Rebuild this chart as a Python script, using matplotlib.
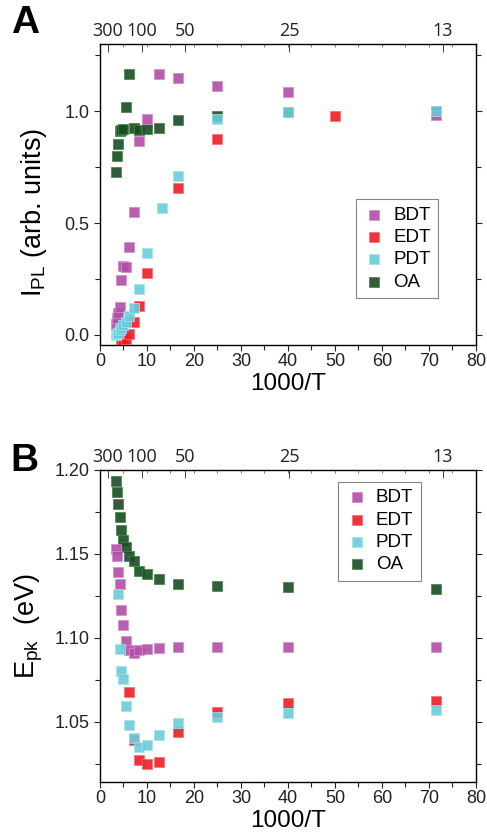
import numpy as np
import matplotlib
matplotlib.use("Agg")
import matplotlib.pyplot as plt
from matplotlib.ticker import MultipleLocator

plt.rcParams['font.family'] = ['Liberation Sans', 'DejaVu Sans']
plt.rcParams['mathtext.default'] = 'regular'

# ---- data ----
labels = ["BDT", "EDT", "PDT", "OA"]
colors = ["#B04FA6", "#EE1D25", "#6ACCDB", "#1B4B24"]
edges  = ["#D58CCB", "#F87077", "#A5E2EA", "#3F8A48"]

# top axis: temperature (K) labels and where they sit on the 1000/T axis
top_labels = ["300", "100", "50", "25", "13"]
top_pos    = [1.7, 9.0, 18.0, 40.2, 73.0]

# panel A: PL intensity
a_bdt_x = [3.33, 3.57, 3.85, 4.17, 4.55, 5.0, 5.56, 6.25, 7.14, 8.33, 10, 12.5, 16.7, 25, 40, 71.4]
a_bdt_y = [0.05, 0.075, 0.10, 0.125, 0.245, 0.31, 0.305, 0.394, 0.55, 0.868, 0.967, 1.165, 1.146, 1.113, 1.086, 0.985]
a_edt_x = [4.55, 5.0, 5.56, 6.25, 7.14, 8.33, 10, 16.7, 25, 50]
a_edt_y = [-0.04, -0.035, -0.02, 0.005, 0.057, 0.128, 0.278, 0.658, 0.875, 0.978]
a_pdt_x = [3.33, 3.57, 3.85, 4.17, 4.55, 5.0, 5.56, 6.25, 7.14, 8.33, 10, 13.3, 16.7, 25, 40, 71.4]
a_pdt_y = [0.0, 0.005, 0.01, 0.02, 0.03, 0.045, 0.06, 0.085, 0.122, 0.204, 0.365, 0.566, 0.71, 0.963, 0.998, 1.0]
a_oa_x  = [3.33, 3.57, 3.85, 4.17, 4.55, 5.0, 5.56, 6.25, 7.14, 8.33, 10, 12.5, 16.7, 25, 40, 71.4]
a_oa_y  = [0.729, 0.80, 0.853, 0.912, 0.918, 0.922, 1.02, 1.165, 0.925, 0.918, 0.922, 0.926, 0.96, 0.978, 0.995, 1.0]

# panel B: peak energy (eV)
b_bdt_x = [3.33, 3.57, 3.85, 4.17, 4.55, 5.0, 5.56, 6.25, 7.14, 8.33, 10, 12.5, 16.7, 25, 40, 71.4]
b_bdt_y = [1.153, 1.149, 1.139, 1.1318, 1.1168, 1.1074, 1.098, 1.0926, 1.0906, 1.0926, 1.093, 1.0936, 1.0942, 1.0942, 1.0942, 1.0942]
b_edt_x = [6.25, 7.14, 8.33, 10, 12.5, 16.7, 25, 40, 71.4]
b_edt_y = [1.0678, 1.039, 1.027, 1.025, 1.026, 1.044, 1.0559, 1.0609, 1.0622]
b_pdt_x = [3.85, 4.17, 4.55, 5.0, 5.56, 6.25, 7.14, 8.33, 10, 12.5, 16.7, 25, 40, 71.4]
b_pdt_y = [1.1263, 1.093, 1.0803, 1.0752, 1.0595, 1.048, 1.040, 1.035, 1.036, 1.042, 1.049, 1.053, 1.0553, 1.057]
b_oa_x  = [3.33, 3.57, 3.85, 4.17, 4.55, 5.0, 5.56, 6.25, 7.14, 8.33, 10, 12.5, 16.7, 25, 40, 71.4]
b_oa_y  = [1.1936, 1.1867, 1.1798, 1.1718, 1.1643, 1.158, 1.154, 1.149, 1.146, 1.140, 1.1378, 1.1348, 1.1322, 1.1306, 1.1302, 1.1293]

zorders = [3, 4, 5, 2.5]


def draw_panel(ax, xs, ys, ylim, ymajor, yminor, ylabel, leg_anchor):
    for x, y, lab, c, e, z in zip(xs, ys, labels, colors, edges, zorders):
        ax.scatter(x, y, marker='s', s=62, color=c, edgecolors=e,
                   linewidths=0.6, alpha=0.9, label=lab, zorder=z)
    ax.set_xlim(0, 80)
    ax.set_ylim(*ylim)
    ax.xaxis.set_major_locator(MultipleLocator(10))
    ax.xaxis.set_minor_locator(MultipleLocator(5))
    ax.yaxis.set_major_locator(MultipleLocator(ymajor))
    ax.yaxis.set_minor_locator(MultipleLocator(yminor))
    ax.tick_params(which='both', direction='out', top=False, right=True,
                   width=0.8, labelsize=13, colors='#222222')
    ax.tick_params(which='major', length=4)
    ax.tick_params(which='minor', length=3.5)
    ax.tick_params(axis='x', pad=2)
    ax.set_xlabel("1000/T", fontsize=17.5, labelpad=2)
    ax.set_ylabel(ylabel, fontsize=19.5)
    for s in ax.spines.values():
        s.set_linewidth(1.0)
        s.set_color('#333333')

    # top axis in temperature
    tx = ax.twiny()
    tx.set_xlim(ax.get_xlim())
    tx.set_xticks(top_pos)
    tx.set_xticklabels(top_labels, family=['Open Sans', 'DejaVu Sans'], fontsize=13)
    tx.xaxis.set_minor_locator(MultipleLocator(5))
    tx.tick_params(which='major', direction='in', length=6, width=0.6, pad=3, colors='#222222')
    tx.tick_params(which='minor', direction='in', length=2.5, width=0.6, colors='#666666')

    leg = ax.legend(loc='upper left', bbox_to_anchor=leg_anchor, borderaxespad=0,
                    fontsize=13.5, frameon=True, fancybox=False, handletextpad=0.4,
                    handlelength=1.2, labelspacing=0.28, borderpad=0.4,
                    markerscale=0.85)
    leg.get_frame().set_edgecolor('#666666')
    leg.get_frame().set_linewidth(0.8)
    return ax


fig = plt.figure(figsize=(4.87, 8.34), dpi=100)

ax_a = fig.add_axes([0.2053, 0.5863, 0.772, 0.3609])
draw_panel(ax_a, [a_bdt_x, a_edt_x, a_pdt_x, a_oa_x], [a_bdt_y, a_edt_y, a_pdt_y, a_oa_y],
           (-0.045, 1.30), 0.5, 0.25, "I$_{PL}$ (arb. units)", (0.68, 0.485))
ax_a.yaxis.set_label_coords(-0.135, 0.44)

ax_b = fig.add_axes([0.2053, 0.0624, 0.772, 0.3741])
draw_panel(ax_b, [b_bdt_x, b_edt_x, b_pdt_x, b_oa_x], [b_bdt_y, b_edt_y, b_pdt_y, b_oa_y],
           (1.014, 1.20), 0.05, 0.025, "E$_{pk}$  (eV)", (0.634, 0.9625))
ax_b.yaxis.set_label_coords(-0.145, 0.5)

fig.text(0.022, 0.973, "A", fontsize=28, fontweight='bold', va='center', ha='left')
fig.text(0.022, 0.447, "B", fontsize=28, fontweight='bold', va='center', ha='left')

fig.savefig("out.png", dpi=100)
